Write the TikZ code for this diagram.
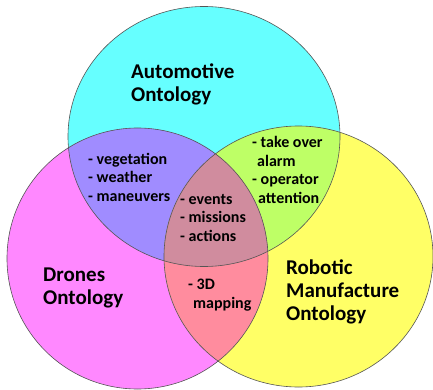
\documentclass[tikz,border=0pt]{standalone}
\usepackage{fontspec}
\setmainfont{Carlito}
\definecolor{cC}{HTML}{66FFFF}
\definecolor{cM}{HTML}{FF88FF}
\definecolor{cY}{HTML}{FFFF66}
\definecolor{cCM}{HTML}{A08CFF}
\definecolor{cCY}{HTML}{BEFF66}
\definecolor{cMY}{HTML}{FF8C9E}
\definecolor{cCMY}{HTML}{D08C9E}
\definecolor{edge}{HTML}{555555}
\tikzset{
  title/.style={anchor=base west, inner sep=0pt, align=left, font=\bfseries\fontsize{21}{23}\selectfont},
  item/.style={anchor=base west, inner sep=0pt, align=left, font=\bfseries\fontsize{16}{18.7}\selectfont},
  rim/.style={draw=edge, line width=0.6pt}
}
\begin{document}
\begin{tikzpicture}[x=1pt,y=-1pt]
\useasboundingbox (0,0) rectangle (433,390);
\def\Cpath{(204,136.5) ellipse [x radius=136, y radius=130]}
\def\Mpath{(137.5,258.5) ellipse [x radius=130.5, y radius=130.5]}
\def\Ypath{(298.5,256.5) ellipse [x radius=134.5, y radius=130.5]}
\fill[cC] \Cpath;
\fill[cM] \Mpath;
\fill[cY] \Ypath;
\begin{scope}\clip \Cpath; \fill[cCM] \Mpath; \end{scope}
\begin{scope}\clip \Cpath; \fill[cCY] \Ypath; \end{scope}
\begin{scope}\clip \Mpath; \fill[cMY] \Ypath; \end{scope}
\begin{scope}\clip \Cpath; \clip \Mpath; \fill[cCMY] \Ypath; \end{scope}
\draw[rim] \Cpath;
\draw[rim] \Mpath;
\draw[rim] \Ypath;
% positions are the baselines of the last lines
\node[title] (auto) at (131,101.5) {Automotive\\Ontology};
\node[title] (drones) at (43,304.5) {Drones\\Ontology};
\node[title] (robot) at (286,320) {Robotic\\Manufacture\\Ontology};
\node[item] (cm) at (88,201.5) {- vegetation\\- weather\\- maneuvers};
\node[item] (cmy) at (180,241.5) {- events\\- missions\\- actions};
\node[item] (cy) at (252,203.5) {- take over\\\hspace*{5pt}alarm\\- operator\\\hspace*{6pt}attention};
\node[item] (my) at (188,308) {- 3D\\\hspace*{5pt}mapping};
\end{tikzpicture}
\end{document}
